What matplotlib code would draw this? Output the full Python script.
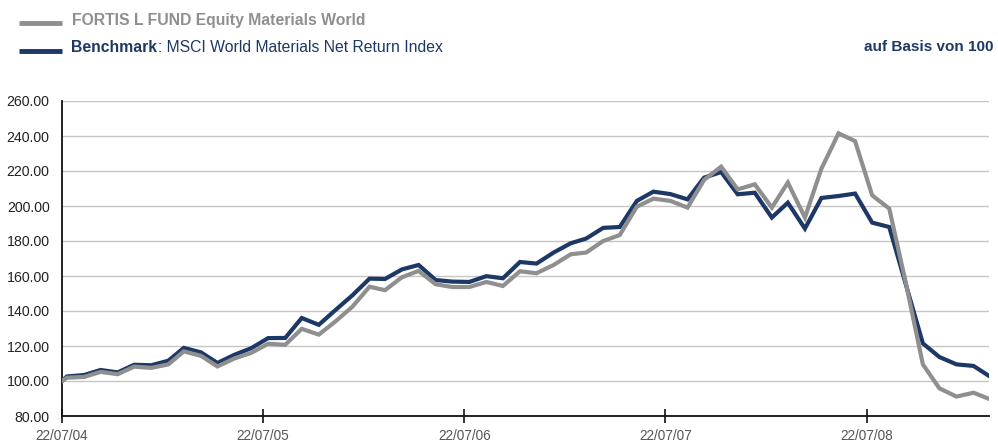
import matplotlib
matplotlib.use("Agg")
import matplotlib.pyplot as plt
from matplotlib.lines import Line2D
import pandas as pd

plt.rcParams['font.family'] = ['Liberation Sans', 'DejaVu Sans']

# ---- data ----
start_date = "2004-07-22"
month_ends = pd.date_range("2004-07-31", "2009-02-28", freq="ME")
dates = [pd.Timestamp(start_date)] + list(month_ends)

benchmark = [100.0, 102.6, 103.4, 106.3, 104.9, 109.3, 109.0, 111.6, 118.9, 116.4,
             110.3, 115.0, 118.7, 124.5, 124.6, 136.0, 132.1, 140.5, 149.0, 158.5,
             158.3, 163.8, 166.3, 157.7, 156.8, 156.6, 159.9, 158.7, 168.0, 167.1,
             173.4, 178.7, 181.4, 187.5, 188.0, 202.9, 208.2, 206.8, 203.8, 216.2,
             219.4, 206.7, 207.6, 193.4, 201.9, 187.1, 204.6, 205.7, 207.1, 190.5,
             188.0, 155.3, 121.5, 113.7, 109.5, 108.6, 102.9]

fund = [100.0, 101.9, 102.3, 105.2, 103.9, 108.2, 107.5, 109.5, 116.9, 114.4,
        108.3, 112.9, 116.0, 121.3, 120.7, 129.8, 126.5, 134.0, 142.5, 153.9,
        151.9, 159.3, 162.9, 155.3, 153.7, 153.7, 156.6, 154.3, 162.7, 161.6,
        166.3, 172.4, 173.4, 180.0, 183.4, 199.6, 204.2, 202.9, 199.1, 214.9,
        222.5, 209.5, 212.4, 199.1, 213.4, 193.4, 221.4, 241.5, 237.1, 206.1,
        198.5, 156.2, 109.5, 95.8, 91.1, 93.3, 89.8]

x_ticks = ["2004-07-22", "2005-07-22", "2006-07-22", "2007-07-22", "2008-07-22"]
x_tick_labels = ["22/07/04", "22/07/05", "22/07/06", "22/07/07", "22/07/08"]
y_ticks = [80, 100, 120, 140, 160, 180, 200, 220, 240, 260]

fund_label = "FORTIS L FUND Equity Materials World"
bench_bold = "Benchmark"
bench_rest = ": MSCI World Materials Net Return Index"
basis_label = "auf Basis von 100"

GRAY = "#8f8f8f"
NAVY = "#1d3866"

W, H = 998, 442
fig = plt.figure(figsize=(W / 100, H / 100), dpi=100)
ax = fig.add_axes([62 / W, (H - 416) / H, 927 / W, 315 / H])

ax.plot(dates, benchmark, color=NAVY, lw=3.0, solid_joinstyle="miter", zorder=3)
ax.plot(dates, fund, color=GRAY, lw=3.0, solid_joinstyle="miter", zorder=3)

ax.set_xlim(pd.Timestamp(start_date), dates[-1])
ax.set_ylim(80, 260)
ax.set_yticks(y_ticks)
ax.set_yticklabels([f"{v:.2f}" for v in y_ticks])
ax.set_xticks([pd.Timestamp(d) for d in x_ticks])
ax.set_xticklabels(x_tick_labels)

ax.grid(axis="y", color="#c6c6c6", lw=1.0, zorder=0)
ax.set_axisbelow(True)
for s in ["top", "right"]:
    ax.spines[s].set_visible(False)
for s in ["left", "bottom"]:
    ax.spines[s].set_color("#111111")
    ax.spines[s].set_linewidth(1.3)

ax.tick_params(axis="y", length=0, pad=9, labelsize=10.2, labelcolor="#222222")
ax.tick_params(axis="x", direction="inout", length=10, width=1.2, color="#111111",
               pad=4, labelsize=9.8, labelcolor="#555555")

# ---- legend / header ----
fig.add_artist(Line2D([19 / W, 62 / W], [1 - 22.5 / H, 1 - 22.5 / H], color=GRAY, lw=3.5,
                      transform=fig.transFigure, solid_capstyle="butt"))
fig.add_artist(Line2D([19 / W, 62 / W], [1 - 50.5 / H, 1 - 50.5 / H], color=NAVY, lw=3.5,
                      transform=fig.transFigure, solid_capstyle="butt"))
fig.text(71.5 / W, 1 - 25 / H, fund_label, color=GRAY, fontsize=11.3, fontweight="bold",
         va="baseline", ha="left")
t1 = fig.text(71.5 / W, 1 - 52.5 / H, bench_bold, color=NAVY, fontsize=11.3,
              fontweight="bold", va="baseline", ha="left")
fig.canvas.draw()
bb = t1.get_window_extent(renderer=fig.canvas.get_renderer())
fig.text(bb.x1 / W, 1 - 52.5 / H, bench_rest, color=NAVY, fontsize=11.3,
         va="baseline", ha="left")
fig.text(993 / W, 1 - 51 / H, basis_label, color=NAVY, fontsize=11.0, fontweight="bold",
         va="baseline", ha="right")

fig.savefig("out.png", dpi=100)
